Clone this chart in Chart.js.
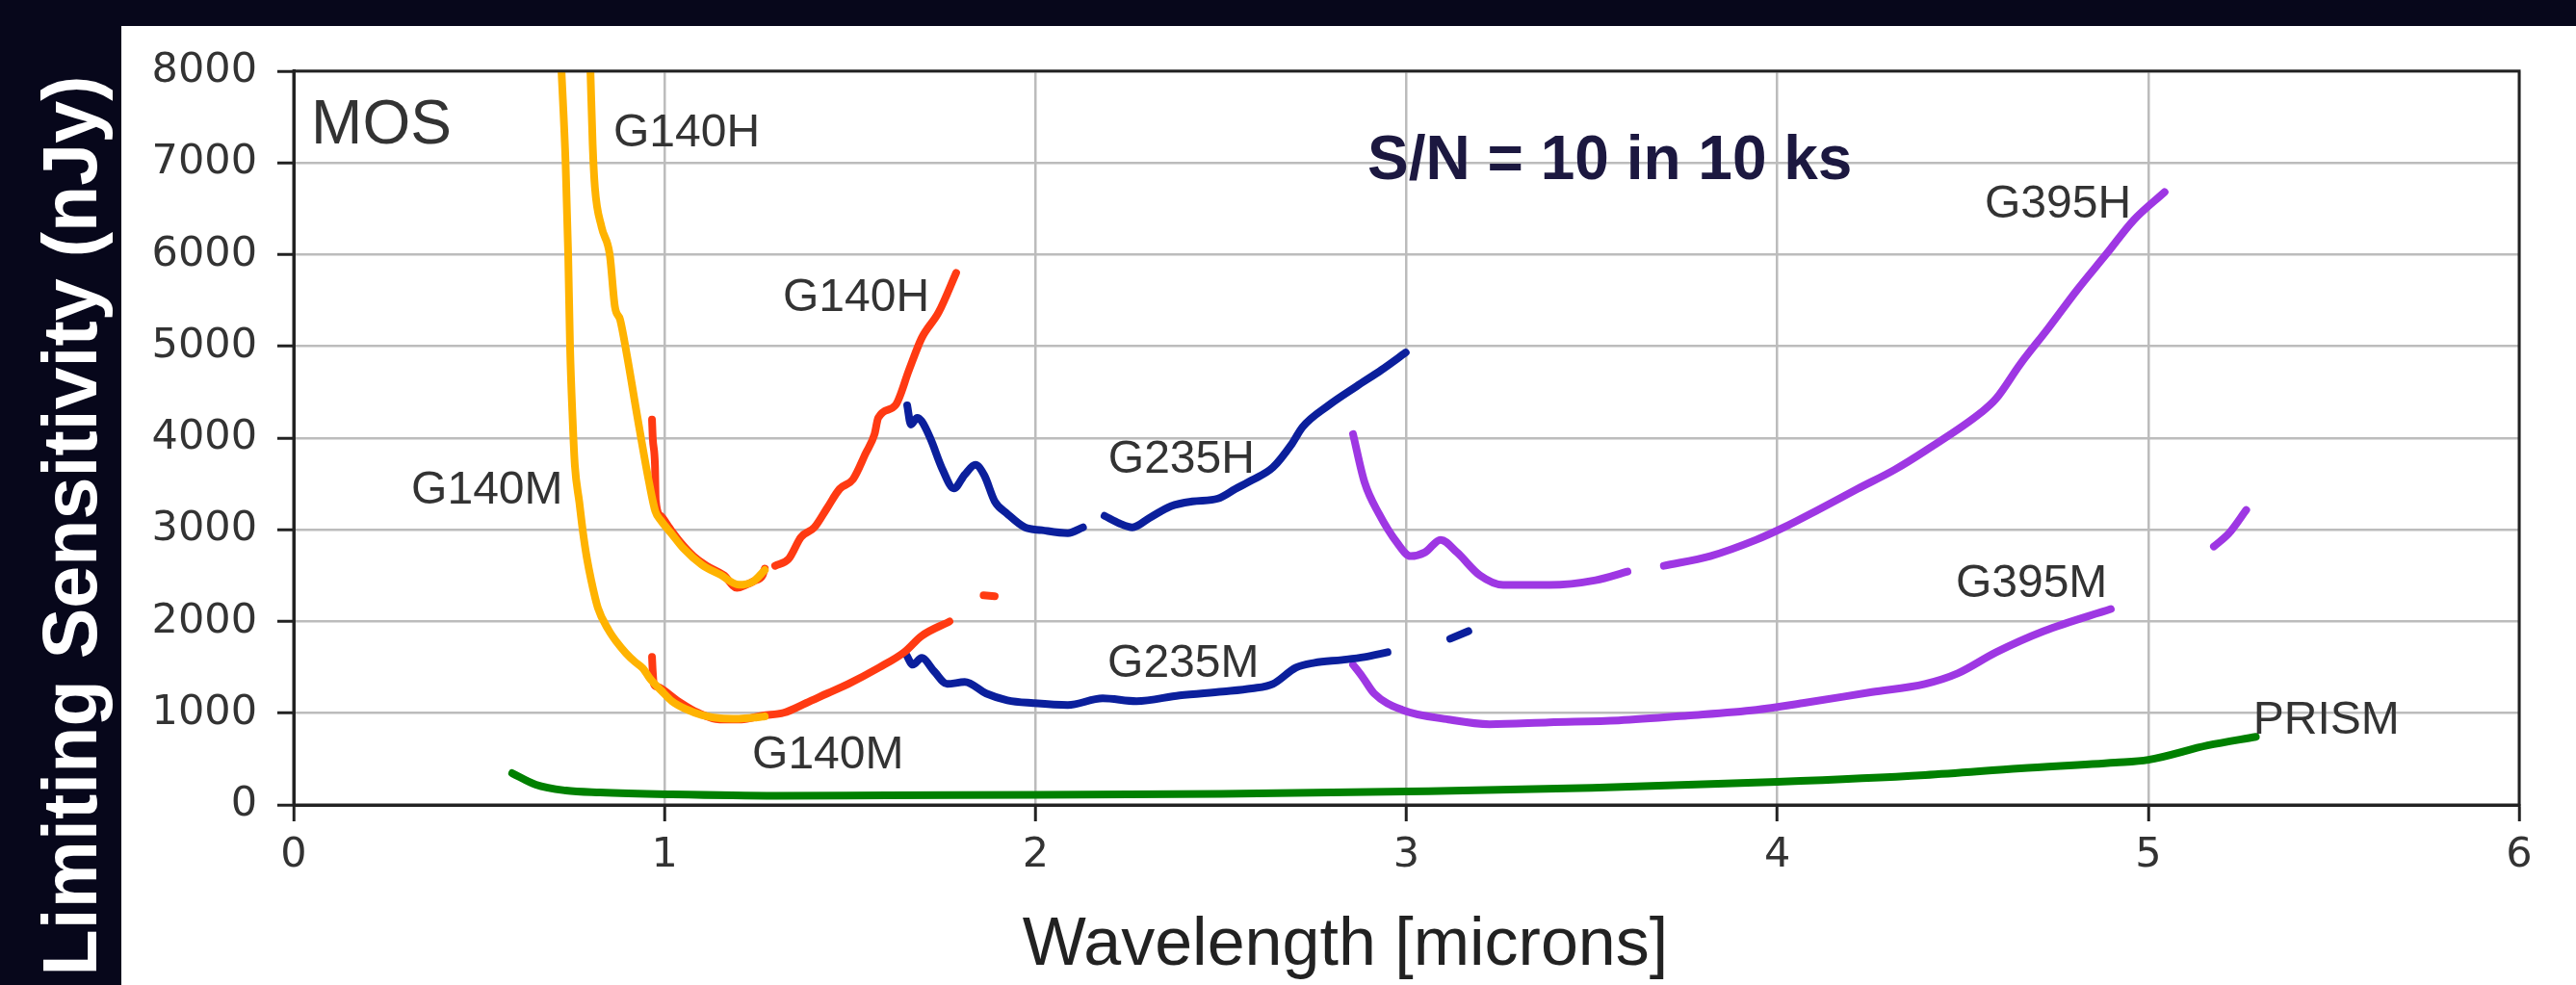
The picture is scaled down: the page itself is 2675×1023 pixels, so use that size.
<!DOCTYPE html>
<html><head><meta charset="utf-8">
<script src="https://cdn.jsdelivr.net/npm/chart.js@4.4.1/dist/chart.umd.min.js"></script>
<style>
html,body{margin:0;padding:0;background:#07071b;width:2675px;height:1023px;overflow:hidden;}
#panel{position:absolute;left:126px;top:27px;width:2549px;height:996px;background:#fff;}
#ytitle{position:absolute;left:72px;top:546px;transform:translate(-50%,-50%) rotate(-90deg);font:bold 79px 'Liberation Sans',Arial,sans-serif;color:#fff;white-space:nowrap;line-height:79px;}
canvas{display:block}
</style></head><body>
<div id="ytitle">Limiting Sensitivity (nJy)</div>
<div id="panel"><canvas id="c" width="2549" height="996"></canvas></div>
<script>
// ---- data: [wavelength (microns), limiting sensitivity (nJy)] ----
const G140H_F070LP = [[0.80,8000],[0.806,7200],[0.812,6733],[0.83,6300],[0.852,6000],[0.866,5430],[0.88,5290],[0.898,4911],[0.927,4220],[0.958,3518],[0.975,3200],[0.99,3100],[1.02,2950],[1.05,2800],[1.1,2620],[1.15,2510],[1.2,2400],[1.24,2440],[1.27,2560]];
const G140M_F070LP = [[0.722,8000],[0.733,7000],[0.74,6000],[0.745,5000],[0.752,4200],[0.758,3700],[0.77,3300],[0.779,3000],[0.79,2700],[0.802,2450],[0.82,2150],[0.849,1906],[0.87,1780],[0.896,1654],[0.92,1560],[0.942,1487],[0.96,1380],[0.973,1320],[0.99,1250],[1.02,1130],[1.06,1040],[1.1,980],[1.15,945],[1.2,940],[1.25,955],[1.27,965]];
const G140H_F100LP_a = [[0.966,4200],[0.968,4000],[0.974,3700],[0.976,3320],[0.99,3150],[1.012,3026],[1.044,2857],[1.078,2712],[1.113,2607],[1.16,2503],[1.195,2366],[1.22,2400],[1.241,2440],[1.264,2503],[1.27,2576]];
const G140H_F100LP_b = [[1.298,2607],[1.334,2680],[1.368,2921],[1.404,3026],[1.438,3236],[1.472,3445],[1.508,3550],[1.542,3832],[1.566,4042],[1.576,4220],[1.622,4356],[1.659,4743],[1.693,5089],[1.739,5372],[1.786,5801]];
const G140M_F100LP = [[0.966,1613],[0.968,1450],[0.971,1319],[0.981,1288],[1.033,1141],[1.09,1005],[1.148,932],[1.207,932],[1.264,974],[1.321,1005],[1.381,1110],[1.438,1215],[1.495,1319],[1.578,1497],[1.646,1665],[1.693,1843],[1.768,2000]];
const G140M_F100LP_dot = [[1.86,2285],[1.89,2275]];
const G235H_a = [[1.654,4356],[1.664,4147],[1.681,4220],[1.693,4183],[1.716,4000],[1.75,3650],[1.78,3450],[1.809,3600],[1.838,3707],[1.862,3592],[1.89,3309],[1.924,3173],[1.971,3026],[2.017,2995],[2.087,2963],[2.128,3026]];
const G235H_b = [[2.186,3152],[2.227,3068],[2.261,3026],[2.308,3131],[2.365,3257],[2.423,3309],[2.492,3340],[2.539,3445],[2.583,3539],[2.64,3680],[2.69,3930],[2.72,4120],[2.79,4356],[2.866,4565],[2.933,4743],[2.998,4932]];
const G235M = [[1.652,1633],[1.669,1529],[1.693,1602],[1.727,1455],[1.762,1319],[1.809,1340],[1.867,1215],[1.924,1141],[1.994,1110],[2.087,1089],[2.181,1162],[2.272,1131],[2.388,1194],[2.505,1236],[2.583,1270],[2.64,1319],[2.702,1497],[2.752,1550],[2.827,1581],[2.887,1612],[2.949,1665]];
const G235M_dash = [[3.118,1812],[3.167,1895]];
const G395H_a = [[2.856,4042],[2.887,3518],[2.926,3173],[2.975,2857],[3.011,2712],[3.05,2754],[3.092,2890],[3.136,2754],[3.198,2503],[3.261,2398],[3.385,2398],[3.51,2450],[3.596,2544]];
const G395H_b = [[3.694,2607],[3.819,2712],[3.943,2890],[4.018,3026],[4.104,3204],[4.216,3445],[4.316,3654],[4.4,3864],[4.551,4283],[4.59,4430],[4.655,4806],[4.73,5194],[4.808,5613],[4.886,6000],[4.961,6377],[5.044,6681]];
const G395H_dash = [[5.177,2817],[5.218,2963],[5.264,3215]];
const G395M = [[2.856,1529],[2.882,1393],[2.913,1215],[2.988,1037],[3.113,932],[3.224,880],[3.385,901],[3.572,922],[3.757,974],[3.943,1037],[4.068,1110],[4.255,1230],[4.398,1319],[4.486,1434],[4.59,1665],[4.718,1895],[4.899,2136]];
const PRISM = [[0.589,346],[0.653,220],[0.734,157],[0.826,136],[1.02,115],[1.3,100],[1.6,105],[2.0,110],[2.5,120],[3.0,147],[3.5,185],[4.0,251],[4.398,325],[4.655,398],[4.911,461],[5.0,492],[5.16,649],[5.29,743]];

const xTicks = [0,1,2,3,4,5,6];
const yTicks = [0,1000,2000,3000,4000,5000,6000,7000,8000];

// curve labels: [text, wavelength, nJy]
const curveLabels = [
  ['G140H',0.862,7183],['G140H',1.319,5382],['G140M',0.317,3290],['G140M',1.236,398],
  ['G235H',2.196,3623],['G235M',2.194,1393],['G395H',4.559,6398],['G395M',4.481,2262],['PRISM',5.283,775]
];

const ORANGE='#FFB300', RED='#FF3A12', BLUE='#0B1F9C', PURPLE='#9E37E3', GREEN='#008000';
const series = [
  [G140M_F070LP,ORANGE],[G140H_F070LP,ORANGE],
  [G140M_F100LP,RED],[G140M_F100LP_dot,RED],[G140H_F100LP_a,RED],[G140H_F100LP_b,RED],
  [G235M,BLUE],[G235M_dash,BLUE],[G235H_a,BLUE],[G235H_b,BLUE],
  [G395M,PURPLE],[G395H_a,PURPLE],[G395H_b,PURPLE],[G395H_dash,PURPLE],
  [PRISM,GREEN]
];
const datasets = series.map(([pts,col]) => ({
  data: pts.map(p => ({x:p[0], y:p[1]})),
  borderColor: col, backgroundColor: col, showLine: true, borderWidth: 8,
  pointRadius: 0, cubicInterpolationMode: 'monotone', fill: false,
  borderCapStyle: 'round', borderJoinStyle: 'round'
}));

const overlay = {
  id: 'overlay',
  afterDatasetsDraw(chart) {
    const {ctx, scales:{x, y}, chartArea:a} = chart;
    ctx.save();
    ctx.fillStyle = '#333';
    ctx.textBaseline = 'alphabetic';
    ctx.textAlign = 'left';
    ctx.font = '48px "Liberation Sans", Arial, sans-serif';
    curveLabels.forEach(([t,wx,wy]) => ctx.fillText(t, x.getPixelForValue(wx), y.getPixelForValue(wy)));
    ctx.font = '64px "Liberation Sans", Arial, sans-serif';
    ctx.fillText('MOS', x.getPixelForValue(0.047), y.getPixelForValue(7215));
    ctx.fillStyle = '#1c1840';
    ctx.font = 'bold 64px "Liberation Sans", Arial, sans-serif';
    ctx.fillText('S/N = 10 in 10 ks', x.getPixelForValue(2.895), y.getPixelForValue(6827));
    // x-axis title
    ctx.fillStyle = '#222';
    ctx.textAlign = 'center';
    ctx.font = '70px "Liberation Sans", Arial, sans-serif';
    ctx.fillText('Wavelength [microns]', 1271, 975);
    // frame
    ctx.strokeStyle = '#222';
    ctx.lineWidth = 3;
    ctx.strokeRect(a.left, a.top, a.right - a.left, a.bottom - a.top);
    ctx.restore();
  }
};

const tickFont = {family:'"DejaVu Sans", sans-serif', size:43};
new Chart(document.getElementById('c'), {
  type: 'scatter',
  data: {datasets},
  options: {
    responsive: false, animation: false, devicePixelRatio: 1,
    layout: {padding: {left: 0, top: 45, right: 59, bottom: 0}},
    plugins: {legend: {display: false}, tooltip: {enabled: false}},
    scales: {
      x: {
        type: 'linear', min: xTicks[0], max: xTicks[xTicks.length-1],
        afterBuildTicks: s => { s.ticks = xTicks.map(v => ({value: v})); },
        ticks: {font: tickFont, color: '#333', padding: 10, maxRotation: 0, callback: v => String(v)},
        grid: {color: '#bcbcbc', lineWidth: 2.5, tickLength: 17, tickColor: '#222', tickWidth: 3},
        border: {display: true, color: '#222', width: 3},
        afterFit: s => { s.height = 187; }
      },
      y: {
        type: 'linear', min: yTicks[0], max: yTicks[yTicks.length-1],
        afterBuildTicks: s => { s.ticks = yTicks.map(v => ({value: v})); },
        ticks: {font: tickFont, color: '#333', padding: 21, callback: v => String(v)},
        grid: {color: '#bcbcbc', lineWidth: 2.5, tickLength: 17, tickColor: '#222', tickWidth: 3},
        border: {display: true, color: '#222', width: 3},
        afterFit: s => { s.width = 179; }
      }
    }
  },
  plugins: [overlay]
});
</script></body></html>
